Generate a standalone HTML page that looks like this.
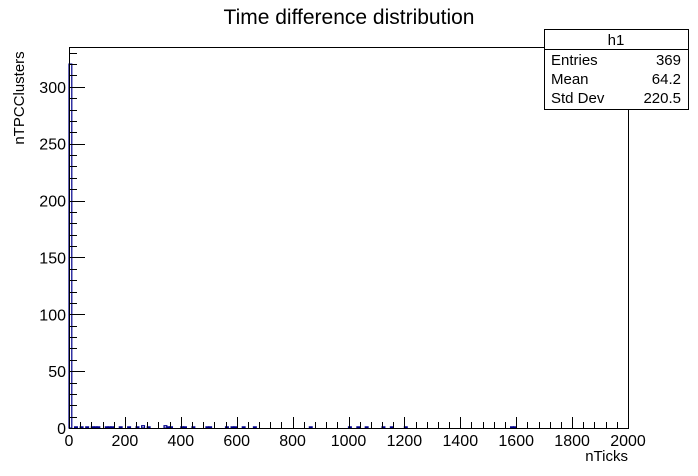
<!DOCTYPE html>
<html><head><meta charset="utf-8"><style>
body{margin:0;background:#fff;font-family:"Liberation Sans",sans-serif}
svg{display:block}
text{font-family:"Liberation Sans",sans-serif}
</style></head><body>
<svg id="c" width="698" height="476">
<rect width="698" height="476" fill="#fff"/>
<text x="349" y="24" text-anchor="middle" font-size="21">Time difference distribution</text>
<g id="bars"></g>
<g id="axes"></g>
<text x="628" y="461" text-anchor="end" font-size="15">nTicks</text>
<text transform="translate(24,98) rotate(-90)" text-anchor="middle" font-size="15">nTPCClusters</text>
<g>
<rect x="544.5" y="29.5" width="144" height="80" fill="#fff" stroke="#000"/>
<line x1="544.5" y1="49.5" x2="688.5" y2="49.5" stroke="#000"/>
<text x="616" y="45" text-anchor="middle" font-size="15">h1</text>
<text x="551" y="65" font-size="15">Entries</text><text x="681" y="65" text-anchor="end" font-size="15">369</text>
<text x="551" y="84" font-size="15">Mean</text><text x="681" y="84" text-anchor="end" font-size="15">64.2</text>
<text x="551" y="103" font-size="15">Std Dev</text><text x="681" y="103" text-anchor="end" font-size="15">220.5</text>
</g>
</svg>
<script>
const binWidth = 10;
const binStarts = [0,20,40,60,80,90,100,130,140,150,180,210,240,260,280,340,350,360,400,410,440,490,500,560,580,590,620,660,860,1000,1030,1060,1120,1150,1200,1580,1590];
const binCounts = [320,1,1,1,1,1,1,1,1,1,1,1,1,2,1,2,1,1,1,1,1,1,1,1,1,1,1,1,1,1,1,1,1,1,1,1,1];
const xTicks = [0,200,400,600,800,1000,1200,1400,1600,1800,2000];
const yTicks = [0,50,100,150,200,250,300];
const X0=69,X1=628,Y0=428,Y1=47,XMAX=2000,YMAX=335;
const sx=v=>X0+(v/XMAX)*(X1-X0);
const sy=v=>Y0-(v/YMAX)*(Y0-Y1);
const NS="http://www.w3.org/2000/svg";
const bars=document.getElementById('bars'),axes=document.getElementById('axes');
function mk(tag,attrs,parent){const e=document.createElementNS(NS,tag);for(const k in attrs)e.setAttribute(k,attrs[k]);parent.appendChild(e);return e;}
binStarts.forEach((b,i)=>{
  const r=mk('rect',{x:sx(b),y:sy(binCounts[i]),width:sx(b+binWidth)-sx(b),height:Y0-sy(binCounts[i]),fill:'none',stroke:'#00008b','stroke-width':1.2},bars);
  
  
});
mk('rect',{x:X0+.5,y:Y1+.5,width:X1-X0,height:Y0-Y1,fill:'none',stroke:'#000'},axes);
for(let v=0;v<=2000;v+=40){const x=Math.round(sx(v))+.5;const big=v%200===0;mk('line',{x1:x,y1:Y0,x2:x,y2:Y0-(big?11:6),stroke:'#000'},axes);}
xTicks.forEach(v=>{const t=mk('text',{x:sx(v),y:Y0+18,'text-anchor':'middle','font-size':16},axes);t.textContent=v;
  
  });
for(let v=0;v<=YMAX;v+=10){const y=Math.round(sy(v))+.5;const big=v%50===0;mk('line',{x1:X0,y1:y,x2:X0+(big?16:8),y2:y,stroke:'#000'},axes);}
yTicks.forEach(v=>{const t=mk('text',{x:X0-3,y:sy(v)+6,'text-anchor':'end','font-size':16},axes);t.textContent=v;
  
  });
</script>
</body></html>
